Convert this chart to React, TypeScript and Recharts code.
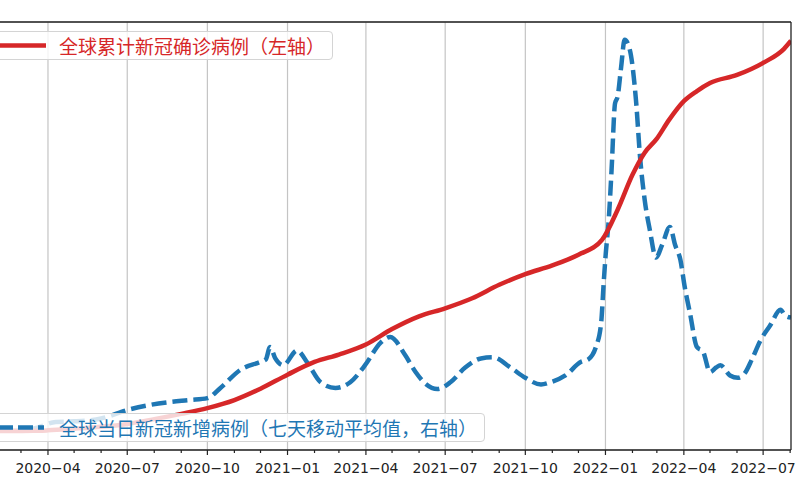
import React from 'react';
import { LineChart, Line, XAxis, YAxis, CartesianGrid, ReferenceLine } from 'recharts';

// 全球累计确诊（百万，左轴）
const cumDates = [
  '2020-01-22', '2020-02-15', '2020-03-01', '2020-03-15', '2020-04-01', '2020-05-01', '2020-06-01',
  '2020-07-01', '2020-08-01', '2020-09-01', '2020-10-01', '2020-11-01', '2020-12-01', '2021-01-01',
  '2021-02-01', '2021-03-01', '2021-04-01', '2021-05-01', '2021-06-01', '2021-07-01', '2021-08-01',
  '2021-09-01', '2021-10-01', '2021-11-01', '2021-12-01', '2021-12-28', '2022-01-15', '2022-02-01',
  '2022-02-15', '2022-03-01', '2022-03-15', '2022-04-01', '2022-04-16', '2022-05-01', '2022-06-01',
  '2022-07-01', '2022-07-25', '2022-08-02',
];
const cumValues = [
  0.001, 0.07, 0.09, 0.17, 0.9, 3.3, 6.2,
  10.5, 17.6, 25.5, 34, 46, 63, 84,
  103, 114, 129, 152, 171, 183, 198,
  218, 234, 247, 263, 285, 330, 382,
  415, 436, 464, 492, 507, 519, 531,
  549, 570, 582,
];

// 全球当日新增（七天移动平均，百万，右轴）
const dailyDates = [
  '2020-01-22', '2020-02-15', '2020-03-01', '2020-03-20', '2020-04-10', '2020-05-01', '2020-06-01',
  '2020-07-01', '2020-07-27', '2020-08-19', '2020-09-11', '2020-10-01', '2020-10-16', '2020-11-08',
  '2020-12-01', '2020-12-07', '2020-12-12', '2020-12-18', '2020-12-27', '2021-01-12', '2021-01-24',
  '2021-02-08', '2021-02-25', '2021-03-14', '2021-03-31', '2021-04-18', '2021-04-29', '2021-05-16',
  '2021-05-28', '2021-06-08', '2021-06-22', '2021-07-07', '2021-07-24', '2021-08-11', '2021-08-25',
  '2021-09-14', '2021-10-01', '2021-10-19', '2021-10-30', '2021-11-16', '2021-12-04', '2021-12-12',
  '2021-12-21', '2021-12-27', '2021-12-30', '2022-01-01', '2022-01-05', '2022-01-08', '2022-01-12',
  '2022-01-15', '2022-01-19', '2022-01-23', '2022-01-29', '2022-02-05', '2022-02-10', '2022-02-15',
  '2022-02-21', '2022-02-28', '2022-03-07', '2022-03-16', '2022-03-22', '2022-03-28', '2022-04-02',
  '2022-04-08', '2022-04-16', '2022-04-23', '2022-05-01', '2022-05-08', '2022-05-13', '2022-05-24',
  '2022-06-02', '2022-06-10', '2022-06-18', '2022-06-28', '2022-07-09', '2022-07-21', '2022-07-26',
  '2022-08-02',
];
const dailyValues = [
  0.001, 0.002, 0.002, 0.03, 0.08, 0.085, 0.11,
  0.185, 0.23, 0.256, 0.273, 0.29, 0.38, 0.54,
  0.61, 0.63, 0.74, 0.64, 0.58, 0.71, 0.6,
  0.43, 0.38, 0.43, 0.58, 0.78, 0.83, 0.67,
  0.52, 0.42, 0.37, 0.43, 0.56, 0.64, 0.65,
  0.56, 0.47, 0.41, 0.43, 0.49, 0.61, 0.63,
  0.74, 0.95, 1.31, 1.53, 1.89, 2.3, 2.89,
  2.95, 3.21, 3.45, 3.36, 2.92, 2.39, 2.04,
  1.77, 1.53, 1.64, 1.8, 1.64, 1.51, 1.27,
  1.04, 0.74, 0.7, 0.52, 0.56, 0.58, 0.49,
  0.47, 0.51, 0.63, 0.8, 0.93, 1.07, 1.02,
  1.0,
];

const monthTicks = [
  '2020-02-01', '2020-03-01', '2020-04-01', '2020-05-01', '2020-06-01', '2020-07-01', '2020-08-01',
  '2020-09-01', '2020-10-01', '2020-11-01', '2020-12-01', '2021-01-01', '2021-02-01', '2021-03-01',
  '2021-04-01', '2021-05-01', '2021-06-01', '2021-07-01', '2021-08-01', '2021-09-01', '2021-10-01',
  '2021-11-01', '2021-12-01', '2022-01-01', '2022-02-01', '2022-03-01', '2022-04-01', '2022-05-01',
  '2022-06-01', '2022-07-01', '2022-08-01',
];
const quarterTicks = [
  '2020-04-01', '2020-07-01', '2020-10-01', '2021-01-01', '2021-04-01',
  '2021-07-01', '2021-10-01', '2022-01-01', '2022-04-01', '2022-07-01',
];
const leftTicks = [0, 100, 200, 300, 400, 500, 600];
const rightTicks = [0, 0.5, 1, 1.5, 2, 2.5, 3, 3.5];

const toT = (s: string) => Date.UTC(+s.slice(0, 4), +s.slice(5, 7) - 1, +s.slice(8, 10));

const cumData = cumDates.map((d, i) => ({ t: toT(d), v: cumValues[i] }));
const dailyData = dailyDates.map((d, i) => ({ t: toT(d), v: dailyValues[i] }));
const quarterSet = new Set(quarterTicks.map(toT));

const RED = '#d62728';
const BLUE = '#1f77b4';
const GRID = '#c4c4c4';
const LEFT_W = 60;
const RIGHT_W = 60;

const DateTick = (props: any) => {
  const { x, y, payload } = props;
  const major = quarterSet.has(payload.value);
  const d = new Date(payload.value);
  const label = `${d.getUTCFullYear()}\u2212${String(d.getUTCMonth() + 1).padStart(2, '0')}`;
  return (
    <g>
      <line x1={x} x2={x} y1={y} y2={y + (major ? 5 : 3)} stroke="#222" strokeWidth={1.2} />
      {major && (
        <text x={x} y={y + 23} textAnchor="middle" fontSize={14} fill="#222" fontFamily="DejaVu Sans">
          {label}
        </text>
      )}
    </g>
  );
};

const legendBox: React.CSSProperties = {
  position: 'absolute',
  left: -10,
  height: 27,
  border: '1px solid #d4d4d4',
  borderRadius: 4,
  background: 'rgba(255,255,255,0.8)',
  fontFamily: '"Noto Sans CJK SC", sans-serif',
  fontSize: 19,
};

export default function App() {
  return (
    <div style={{ position: 'fixed', left: 0, top: 0, width: 800, height: 500, overflow: 'hidden', background: '#fff' }}>
      <div style={{ position: 'absolute', left: -13 - LEFT_W, top: 0 }}>
        <LineChart width={LEFT_W + 804 + RIGHT_W} height={500} margin={{ top: 22, right: 0, bottom: 0, left: 0 }}>
          <CartesianGrid yAxisId="left" vertical={false} stroke={GRID} strokeWidth={1.2} />
          {quarterTicks.map((q) => (
            <ReferenceLine key={q} x={toT(q)} yAxisId="left" stroke={GRID} strokeWidth={1.2} />
          ))}
          <XAxis
            dataKey="t"
            type="number"
            domain={[toT('2020-01-22'), toT('2022-08-02')]}
            allowDataOverflow
            ticks={monthTicks.map(toT)}
            interval={0}
            tick={<DateTick />}
            tickLine={false}
            tickSize={0}
            tickMargin={0}
            height={50}
            axisLine={{ stroke: '#222', strokeWidth: 1.3 }}
          />
          <YAxis
            yAxisId="left"
            type="number"
            domain={[-28.4, 610]}
            allowDataOverflow
            ticks={leftTicks}
            width={LEFT_W}
            axisLine={false}
            tickLine={false}
            tick={false}
          />
          <YAxis
            yAxisId="right"
            orientation="right"
            type="number"
            domain={[-0.1675, 3.607]}
            allowDataOverflow
            ticks={rightTicks}
            width={RIGHT_W}
            tick={false}
            tickSize={4}
            axisLine={{ stroke: '#222', strokeWidth: 1.3 }}
            tickLine={{ stroke: '#222', strokeWidth: 1.2 }}
          />
          <ReferenceLine y={610} yAxisId="left" stroke="#222" strokeWidth={1.3} />
          <Line
            yAxisId="right"
            data={dailyData}
            dataKey="v"
            type="monotone"
            stroke={BLUE}
            strokeWidth={4.5}
            strokeDasharray="15 6"
            dot={false}
            isAnimationActive={false}
          />
          <Line
            yAxisId="left"
            data={cumData}
            dataKey="v"
            type="monotone"
            stroke={RED}
            strokeWidth={4.5}
            dot={false}
            isAnimationActive={false}
          />
        </LineChart>
      </div>

      <div style={{ ...legendBox, top: 31, width: 341 }}>
        <svg width={60} height={27} style={{ position: 'absolute', left: 0, top: 0 }}>
          <line x1={0} x2={55} y1={13.5} y2={13.5} stroke={RED} strokeWidth={4.5} />
        </svg>
        <span style={{ position: 'absolute', left: 68, top: 0, lineHeight: '27px', color: RED, whiteSpace: 'nowrap' }}>
          全球累计新冠确诊病例（左轴）
        </span>
      </div>

      <div style={{ ...legendBox, top: 413, width: 493 }}>
        <svg width={60} height={27} style={{ position: 'absolute', left: 0, top: 0 }}>
          <line x1={7} x2={53} y1={13.5} y2={13.5} stroke={BLUE} strokeWidth={4.5} strokeDasharray="15 5" />
        </svg>
        <span style={{ position: 'absolute', left: 68, top: 0, lineHeight: '27px', color: BLUE, whiteSpace: 'nowrap' }}>
          全球当日新冠新增病例（七天移动平均值，右轴）
        </span>
      </div>
    </div>
  );
}
